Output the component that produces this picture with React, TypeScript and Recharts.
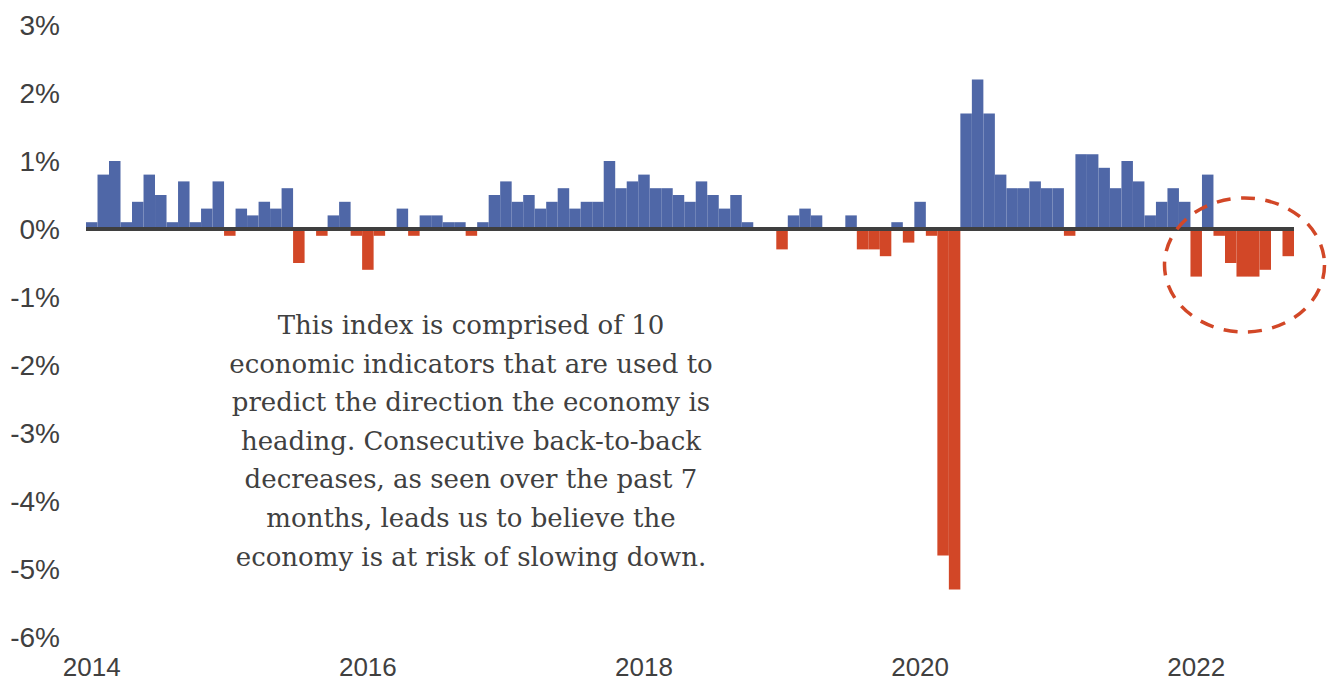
import React from "react";
import { BarChart, Bar, XAxis, YAxis, ReferenceLine, Cell } from "recharts";

// Monthly change in the leading economic index (%), Jan 2014 .. Sep 2022
const startYear = 2014;
const monthCount = 105;
const monthNames = ["01", "02", "03", "04", "05", "06", "07", "08", "09", "10", "11", "12"];

const values2014 = [0.1, 0.8, 1.0, 0.1, 0.4, 0.8, 0.5, 0.1, 0.7, 0.1, 0.3, 0.7];
const values2015 = [-0.1, 0.3, 0.2, 0.4, 0.3, 0.6, -0.5, 0, -0.1, 0.2, 0.4, -0.1];
const values2016 = [-0.6, -0.1, 0, 0.3, -0.1, 0.2, 0.2, 0.1, 0.1, -0.1, 0.1, 0.5];
const values2017 = [0.7, 0.4, 0.5, 0.3, 0.4, 0.6, 0.3, 0.4, 0.4, 1.0, 0.6, 0.7];
const values2018 = [0.8, 0.6, 0.6, 0.5, 0.4, 0.7, 0.5, 0.3, 0.5, 0.1, 0, 0];
const values2019 = [-0.3, 0.2, 0.3, 0.2, 0, 0, 0.2, -0.3, -0.3, -0.4, 0.1, -0.2];
const values2020 = [0.4, -0.1, -4.8, -5.3, 1.7, 2.2, 1.7, 0.8, 0.6, 0.6, 0.7, 0.6];
const values2021 = [0.6, -0.1, 1.1, 1.1, 0.9, 0.6, 1.0, 0.7, 0.2, 0.4, 0.6, 0.4];
const values2022 = [-0.7, 0.8, -0.1, -0.5, -0.7, -0.7, -0.6, 0, -0.4];

const yTicks = [-6, -5, -4, -3, -2, -1, 0, 1, 2, 3];

const annotationLines = [
  "This index is comprised of 10",
  "economic indicators that are used to",
  "predict the direction the economy is",
  "heading. Consecutive back-to-back",
  "decreases, as seen over the past 7",
  "months, leads us to believe the",
  "economy is at risk of slowing down.",
];

const allValues = [
  ...values2014,
  ...values2015,
  ...values2016,
  ...values2017,
  ...values2018,
  ...values2019,
  ...values2020,
  ...values2021,
  ...values2022,
];

const months: string[] = [];
for (let i = 0; i < monthCount; i++) {
  months.push(`${startYear + Math.floor(i / 12)}-${monthNames[i % 12]}`);
}

const data = months.map((m, i) => ({ month: m, value: allValues[i] }));

const BLUE = "#4F67A7";
const RED = "#D24727";
const TEXT = "#404040";

export default function App() {
  return (
    <div style={{ position: "relative", width: 1327, height: 675 }}>
      <BarChart
        width={1327}
        height={675}
        data={data}
        margin={{ top: 17, right: 41, bottom: 0, left: 0 }}
        barCategoryGap={0}
        barGap={0}
      >
        <XAxis
          dataKey="month"
          interval={23}
          tickFormatter={(v: string) => v.slice(0, 4)}
          axisLine={false}
          tickLine={false}
          tickSize={0}
          tickMargin={21}
          height={46}
          tick={{ fill: TEXT, fontSize: 26, fontFamily: "Liberation Sans, Arial, sans-serif" }}
        />
        <YAxis
          domain={[-6, 3]}
          ticks={yTicks}
          tickFormatter={(v: number) => `${v}%`}
          axisLine={false}
          tickLine={false}
          tickSize={0}
          tickMargin={26}
          width={78}
          tick={{ fill: TEXT, fontSize: 28, fontFamily: "Liberation Sans, Arial, sans-serif" }}
        />
        <Bar dataKey="value" barSize={11.5} isAnimationActive={false}>
          {data.map((d, i) => (
            <Cell key={i} fill={d.value >= 0 ? BLUE : RED} />
          ))}
        </Bar>
        <ReferenceLine y={0} stroke="#3F3F3F" strokeWidth={4} />
      </BarChart>
      <div
        style={{
          position: "absolute",
          left: 163,
          top: 298,
          width: 600,
          textAlign: "center",
          fontFamily: "'DejaVu Serif', serif",
          fontSize: 26,
          lineHeight: "38.6px",
          color: TEXT,
          pointerEvents: "none",
        }}
      >
        {annotationLines.map((l, i) => (
          <div key={i}>{l}</div>
        ))}
      </div>
      <svg
        width={1327}
        height={675}
        style={{ position: "absolute", left: 0, top: 0, pointerEvents: "none" }}
      >
        <ellipse
          cx={1236.5}
          cy={257}
          rx={80}
          ry={67}
          fill="none"
          stroke={RED}
          strokeWidth={3.5}
          strokeDasharray="14 10.5"
        />
      </svg>
    </div>
  );
}
